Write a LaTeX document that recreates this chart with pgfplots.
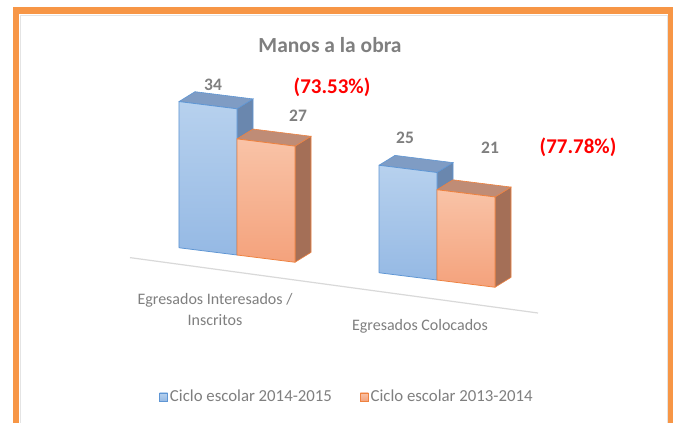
\documentclass[border=0pt]{standalone}
\usepackage{pgfplots}
\pgfplotsset{compat=1.18}
\usetikzlibrary{calc}
\usepackage{fontspec}
\setmainfont{Carlito}
\usepackage{xcolor}
\definecolor{BlueTop}{HTML}{B7D1EE}
\definecolor{BlueBot}{HTML}{95B9E4}
\definecolor{BlueEdge}{HTML}{5F96D4}
\definecolor{BlueLid}{HTML}{7F9CC4}
\definecolor{BlueSide}{HTML}{6A87AE}
\definecolor{OrTop}{HTML}{F9C3A7}
\definecolor{OrBot}{HTML}{F4A27C}
\definecolor{OrEdge}{HTML}{EE8240}
\definecolor{OrLid}{HTML}{BF8C76}
\definecolor{OrSide}{HTML}{A46F57}
\definecolor{Frame}{HTML}{F79646}
\definecolor{TxtGray}{HTML}{7F7F7F}
\definecolor{Floor}{HTML}{D9D9D9}
\pgfdeclarelayer{background}
\pgfsetlayers{background,main}
\pgfplotsset{
  bfront/.style={draw=BlueEdge,line width=.8pt,top color=BlueTop,bottom color=BlueBot},
  blid/.style={draw=BlueEdge,line width=.6pt,fill=BlueLid,forget plot},
  bside/.style={draw=BlueEdge,line width=.6pt,fill=BlueSide,forget plot},
  ofront/.style={draw=OrEdge,line width=.8pt,top color=OrTop,bottom color=OrBot},
  olid/.style={draw=OrEdge,line width=.6pt,fill=OrLid,forget plot},
  oside/.style={draw=OrEdge,line width=.6pt,fill=OrSide,forget plot},
}
\begin{document}
\begin{tikzpicture}[x=1pt,y=1pt]
\begin{scope}[overlay]
\begin{axis}[
  x={(200pt,-25pt)},y={(0pt,4.3pt)},
  xmin=-0.6,xmax=1.6,ymin=-9.5,ymax=40,
  clip=false,
  axis line style={draw=none},
  major tick length=0pt,
  ytick=\empty,
  xtick={-0.11,0.915},
  xticklabels={{Egresados Interesados /\\Inscritos},{Egresados Colocados}},
  xticklabel style={align=center,anchor=north,inner sep=0pt,
    font=\fontsize{16}{21}\selectfont,text=TxtGray},
  legend columns=2,
  legend style={at={(axis cs:0.55,-29.8)},anchor=center,draw=none,fill=none,
    font=\fontsize{16.8}{18}\selectfont,text=TxtGray,
    /tikz/every even column/.append style={column sep=26pt}},
  legend image code/.code={\draw[#1,line width=.6pt] (0pt,-4pt) rectangle (8pt,4pt);},
]
\coordinate (O) at (axis cs:0,0);
% floor edge
\addplot[Floor,line width=1.2pt,forget plot] coordinates {(-0.535,-3.72) (1.505,-4.74)};
% group 1
\addplot[bside] coordinates {(0,0) (0.08,2.76) (0.08,36.76) (0,34) (0,0)};
\addplot[blid] coordinates {(-0.29,34) (0,34) (0.08,36.76) (-0.21,36.76) (-0.29,34)};
\addplot[bfront] coordinates {(-0.29,0) (0,0) (0,34) (-0.29,34) (-0.29,0)};
\addlegendentry{Ciclo escolar 2014-2015}
\addplot[oside] coordinates {(0.29,0) (0.37,2.76) (0.37,29.76) (0.29,27) (0.29,0)};
\addplot[olid] coordinates {(0,27) (0.29,27) (0.37,29.76) (0.08,29.76) (0,27)};
\addplot[ofront] coordinates {(0,0) (0.29,0) (0.29,27) (0,27) (0,0)};
\addlegendentry{Ciclo escolar 2013-2014}
% group 2
\addplot[bside] coordinates {(1,0) (1.08,2.76) (1.08,27.76) (1,25) (1,0)};
\addplot[blid] coordinates {(0.71,25) (1,25) (1.08,27.76) (0.79,27.76) (0.71,25)};
\addplot[bfront,forget plot] coordinates {(0.71,0) (1,0) (1,25) (0.71,25) (0.71,0)};
\addplot[oside] coordinates {(1.29,0) (1.37,2.76) (1.37,23.76) (1.29,21) (1.29,0)};
\addplot[olid] coordinates {(1,21) (1.29,21) (1.37,23.76) (1.08,23.76) (1,21)};
\addplot[ofront,forget plot] coordinates {(1,0) (1.29,0) (1.29,21) (1,21) (1,0)};
% value labels
\addplot[draw=none,mark=none,forget plot,
  nodes near coords,point meta=explicit symbolic,nodes near coords align={center},
  every node near coord/.append style={anchor=center,text=TxtGray,
    font=\bfseries\fontsize{17.5}{18}\selectfont}]
  coordinates {(-0.12,38.84)[34] (0.305,34.09)[27] (0.84,32.09)[25] (1.265,32.23)[21]};
\end{axis}
\end{scope}
\begin{scope}[shift={($(O)+(-237,-168)$)}]
\useasboundingbox (0,0) rectangle (673,423);
\begin{pgfonlayer}{background}
\fill[white] (0,0) rectangle (673,423);
\end{pgfonlayer}
\draw[Floor!70,line width=.8pt] (20.5,-5) rectangle (667,408);
\draw[Frame,line width=6.5pt] (16,-10) rectangle (671,412.5);
\node[font=\bfseries\fontsize{21.5}{22}\selectfont,text=TxtGray] at (330,378) {Manos a la obra};
\node[text=red,font=\bfseries\fontsize{21}{22}\selectfont] at (332,336) {(73.53\%)};
\node[text=red,font=\bfseries\fontsize{21}{22}\selectfont] at (578,276) {(77.78\%)};
\end{scope}
\end{tikzpicture}
\end{document}
